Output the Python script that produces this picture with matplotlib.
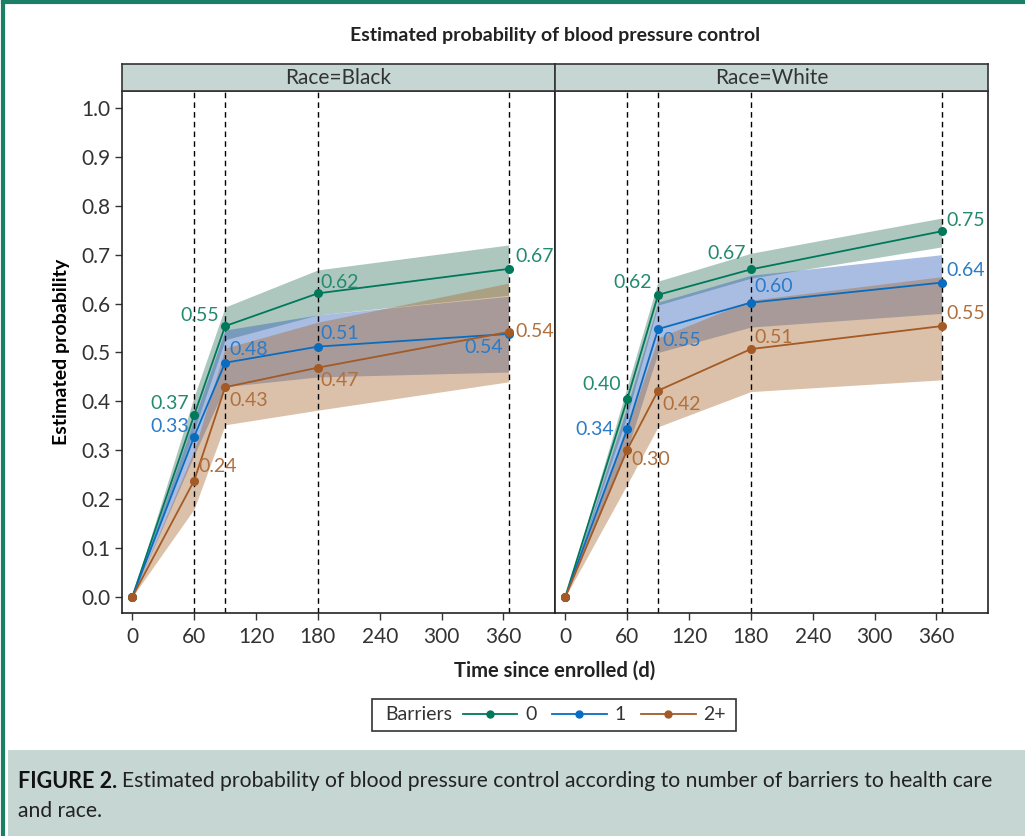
import numpy as np
import matplotlib.pyplot as plt
from matplotlib.lines import Line2D
from matplotlib.patches import Rectangle

plt.rcParams["font.family"] = ["Lato", "DejaVu Sans"]
plt.rcParams["axes.linewidth"] = 1.2

# ===================== 数据 =====================
days = [0, 60, 90, 180, 365]
vlines = [60, 90, 180, 365]
races = ["Black", "White"]
groups = ["0", "1", "2+"]

# 估计概率（点）
black_est = {
    "0": [0.0, 0.372, 0.554, 0.621, 0.671],
    "1": [0.0, 0.328, 0.479, 0.512, 0.538],
    "2+": [0.0, 0.238, 0.429, 0.469, 0.542],
}
white_est = {
    "0": [0.0, 0.404, 0.618, 0.670, 0.748],
    "1": [0.0, 0.343, 0.548, 0.602, 0.643],
    "2+": [0.0, 0.301, 0.422, 0.507, 0.554],
}

# 置信带 下限 / 上限
black_lo = {
    "0": [0.0, 0.34, 0.526, 0.577, 0.617],
    "1": [0.0, 0.29, 0.43, 0.45, 0.46],
    "2+": [0.0, 0.18, 0.352, 0.382, 0.44],
}
black_hi = {
    "0": [0.0, 0.41, 0.593, 0.669, 0.72],
    "1": [0.0, 0.365, 0.546, 0.577, 0.615],
    "2+": [0.0, 0.30, 0.509, 0.562, 0.642],
}
white_lo = {
    "0": [0.0, 0.37, 0.597, 0.652, 0.716],
    "1": [0.0, 0.30, 0.50, 0.552, 0.58],
    "2+": [0.0, 0.23, 0.348, 0.42, 0.444],
}
white_hi = {
    "0": [0.0, 0.43, 0.646, 0.703, 0.775],
    "1": [0.0, 0.39, 0.603, 0.658, 0.70],
    "2+": [0.0, 0.345, 0.53, 0.607, 0.655],
}

EST = {"Black": black_est, "White": white_est}
LO = {"Black": black_lo, "White": white_lo}
HI = {"Black": black_hi, "White": white_hi}

# ===================== 样式 =====================
LINE_COLOR = {"0": "#00785a", "1": "#0a6cbf", "2+": "#a35a25"}
TEXT_COLOR = {"0": "#238a6e", "1": "#2a7bc8", "2+": "#b0703e"}
FILL_COLOR = {"0": "#327561", "1": "#2a5ab9", "2+": "#a7662a"}
STRIP_BG = "#c5d6d3"
FRAME_GREEN = "#1b7f66"

# 标签偏移（像素）与对齐方式，顺序对应 days[1:]
LABEL_POS = {
    "Black": {
        "0": [(-5, 12, "right"), (-6, 11, "right"), (2, 11, "left"), (7, 12, "left")],
        "1": [(-5, 10, "right"), (4, 13, "left"), (2, 13, "left"), (-6, -14, "right")],
        "2+": [(4, 14, "left"), (4, -13, "left"), (2, -13, "left"), (7, 0, "left")],
    },
    "White": {
        "0": [(-6, 15, "right"), (-6, 12, "right"), (-5, 16, "right"), (5, 11, "left")],
        "1": [(-13, 0, "right"), (4, -11, "left"), (3, 16, "left"), (5, 12, "left")],
        "2+": [(4, -10, "left"), (4, -14, "left"), (3, 12, "left"), (5, 13, "left")],
    },
}

W, H = 1025, 836
fig = plt.figure(figsize=(W / 100, H / 100), dpi=100)

# 底部说明区背景 + 绿色边框
fig.patches.append(Rectangle((8 / W, 0), 1, 1 - 750 / H, transform=fig.transFigure,
                             facecolor=STRIP_BG, edgecolor="none", zorder=0))
fig.add_artist(Line2D([3 / W, 3 / W], [0, 1 - 2 / H], transform=fig.transFigure,
                      color=FRAME_GREEN, lw=3))
fig.add_artist(Line2D([3 / W, 1], [1 - 2 / H, 1 - 2 / H], transform=fig.transFigure,
                      color=FRAME_GREEN, lw=3))

ax_w = 433 / W
ax_b = 1 - 613 / H
ax_h = 522 / H
lefts = [122 / W, 555 / W]

for k, race in enumerate(races):
    ax = fig.add_axes([lefts[k], ax_b, ax_w, ax_h])

    for g in groups:
        ax.fill_between(days, LO[race][g], HI[race][g], color=FILL_COLOR[g],
                        alpha=0.4, lw=0, zorder=1)

    for x in vlines:
        ax.axvline(x, color="black", ls=(0, (4, 3)), lw=1.0, zorder=2)

    for g in groups:
        ax.plot(days, EST[race][g], color=LINE_COLOR[g], lw=1.3, marker="o",
                ms=5.5, zorder=3)
        for j, d in enumerate(days[1:]):
            v = EST[race][g][j + 1]
            dx, dy, ha = LABEL_POS[race][g][j]
            ax.annotate(f"{v:.2f}", (d, v), xytext=(dx, dy), textcoords="offset pixels",
                        ha=ha, va="center", fontsize=14, color=TEXT_COLOR[g], zorder=4)

    ax.set_xlim(-10, 410)
    ax.set_ylim(-0.033, 1.035)
    ax.set_xticks([0, 60, 120, 180, 240, 300, 360])
    ax.tick_params(axis="x", labelsize=15, length=5, width=1, colors="#333333",
                   labelcolor="#333333", pad=5)
    if k == 0:
        ax.set_yticks(np.arange(0, 1.01, 0.1))
        ax.set_yticklabels([f"{t:.1f}" for t in np.arange(0, 1.01, 0.1)])
        ax.tick_params(axis="y", labelsize=15, length=5, width=1, colors="#333333",
                       labelcolor="#333333")
        ax.set_ylabel("Estimated probability", fontsize=14, fontweight="bold",
                      labelpad=8)
    else:
        ax.set_yticks([])
    for s in ax.spines.values():
        s.set_color("#222222")

    # 分面标题条
    sax = fig.add_axes([lefts[k], 1 - 91 / H, ax_w, 27 / H])
    sax.set_facecolor(STRIP_BG)
    sax.set_xticks([])
    sax.set_yticks([])
    for s in sax.spines.values():
        s.set_color("#333333")
        s.set_linewidth(1.2)
    sax.text(0.5, 0.5, f"Race={race}", ha="center", va="center", fontsize=15,
             color="#333333", transform=sax.transAxes)

fig.text(555 / W, 1 - 36 / H, "Estimated probability of blood pressure control",
         ha="center", va="center", fontsize=14, fontweight="bold", color="#222222")
fig.text(555 / W, 1 - 671 / H, "Time since enrolled (d)", ha="center", va="center",
         fontsize=14.5, fontweight="bold", color="#222222")

# 图例
fig.patches.append(Rectangle((372 / W, 1 - 731 / H), 364 / W, 32 / H,
                             transform=fig.transFigure, facecolor="white",
                             edgecolor="#333333", lw=1.2, zorder=1))
fig.text(385 / W, 1 - 715 / H, "Barriers", ha="left", va="center", fontsize=14,
         color="#333333")
handles = [Line2D([], [], color=LINE_COLOR[g], lw=1.3, marker="o", ms=5) for g in groups]
fig.legend(handles, groups, ncol=3, loc="center left", bbox_to_anchor=(463 / W, 1 - 715 / H),
           frameon=False, fontsize=14, handlelength=2.8, handletextpad=0.4,
           columnspacing=0.8, borderpad=0, borderaxespad=0, labelcolor="#333333")

# 说明文字
fig.text(18 / W, 1 - 781 / H, "FIGURE 2.", ha="left", va="center", fontsize=15.5,
         fontweight="bold", color="#111111")
fig.text(122 / W, 1 - 781 / H,
         "Estimated probability of blood pressure control according to number of barriers to health care",
         ha="left", va="center", fontsize=15.2, color="#222222")
fig.text(18 / W, 1 - 811 / H, "and race.", ha="left", va="center", fontsize=15.2,
         color="#222222")

fig.savefig("out.png", dpi=100)
